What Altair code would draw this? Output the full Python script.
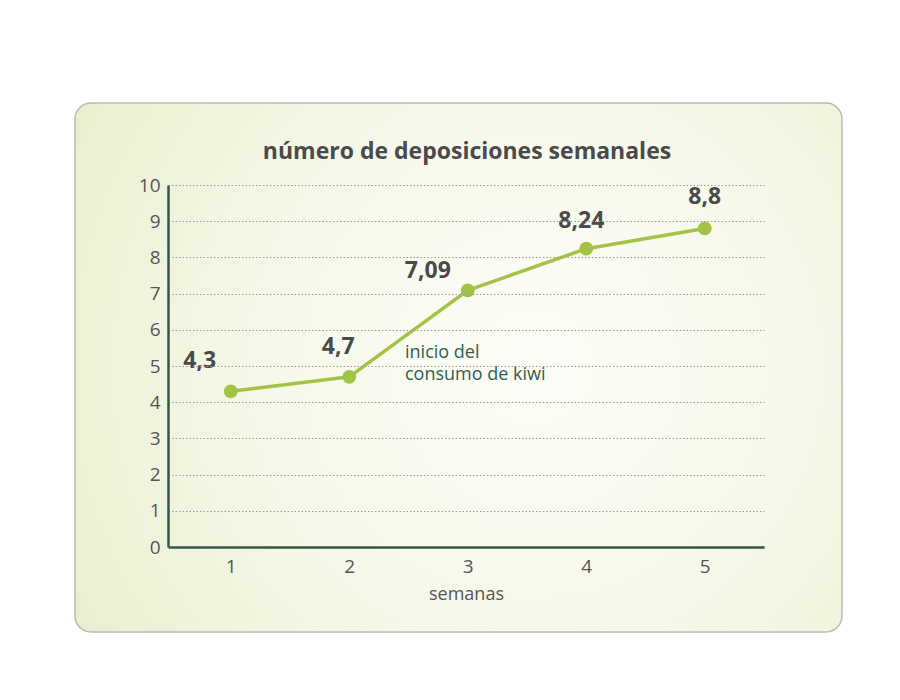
import altair as alt
import pandas as pd

# data
semanas = [1, 2, 3, 4, 5]
deposiciones = [4.3, 4.7, 7.09, 8.24, 8.8]
etiquetas = ["4,3", "4,7", "7,09", "8,24", "8,8"]
y_ticks = [0, 1, 2, 3, 4, 5, 6, 7, 8, 9, 10]
titulo = "número de deposiciones semanales"
nota = "inicio del\nconsumo de kiwi"

df = pd.DataFrame({"semana": semanas, "valor": deposiciones, "etiqueta": etiquetas})

FONT = "Open Sans"
W, H = 596, 362

xs = alt.Scale(domain=[0.47, 5.5], nice=False, zero=False)
ys = alt.Scale(domain=[0, 10], nice=False)

x_axis = alt.Axis(values=semanas, title="semanas", grid=False, format="d", zindex=1,
                  labelPadding=10, titlePadding=9)
y_axis = alt.Axis(values=y_ticks, title=None, grid=True, format="d", zindex=1,
                  labelPadding=8)

X = alt.X("semana:Q", scale=xs, axis=x_axis)
Y = alt.Y("valor:Q", scale=ys, axis=y_axis)

one = pd.DataFrame({"k": [0]})

# background card
card = alt.Chart(one).mark_rect(
    cornerRadius=16,
    stroke="#b9bab2",
    strokeWidth=1.5,
    clip=False,
    color=alt.Gradient(
        gradient="radial",
        x1=0.6, y1=0.5, x2=0.6, y2=0.5, r1=0, r2=0.75,
        stops=[
            alt.GradientStop(color="#fdfdf8", offset=0),
            alt.GradientStop(color="#f5f8e8", offset=0.5),
            alt.GradientStop(color="#e6eecc", offset=1),
        ],
    ),
).encode(
    x=alt.value(-93), x2=alt.value(674), y=alt.value(-82), y2=alt.value(447)
)

title = alt.Chart(one).mark_text(
    text=titulo, font=FONT, fontSize=23, fontWeight="bold", color="#4a4a4a",
    align="center", baseline="middle",
).encode(x=alt.value(299), y=alt.value(-33))

base = alt.Chart(df)

line = base.mark_line(color="#a3c347", strokeWidth=3.5).encode(x=X, y=Y)
pts = base.mark_circle(color="#a3c347", size=190, opacity=1).encode(x=X, y=Y)

label_offsets = [(-31, -30), (-11, -30), (-40, -19), (-5, -28), (0, -31)]
labels = []
for i, (dx, dy) in enumerate(label_offsets):
    labels.append(
        alt.Chart(df.iloc[[i]]).mark_text(
            font=FONT, fontSize=23, fontWeight="bold", color="#4a4a4a",
            dx=dx, dy=dy, align="center", baseline="middle",
        ).encode(x=X, y=Y, text="etiqueta:N")
    )

note = alt.Chart(one).mark_text(
    text=nota, lineBreak="\n", lineHeight=22,
    font=FONT, fontSize=18, color="#2f5e50", align="left", baseline="top"
).encode(x=alt.value(237), y=alt.value(159))

chart = alt.layer(card, title, line, pts, *labels, note).properties(
    width=W, height=H,
    autosize=alt.AutoSizeParams(type="none"),
    padding={"left": 160, "top": 177, "right": 100, "bottom": 120},
    background="white",
).configure_view(stroke=None).configure_axis(
    ticks=False, labelOverlap=False, labelFont=FONT, labelColor="#555555",
    labelFontSize=19, domainColor="#2f5a4b", domainWidth=2.5,
    gridColor="#9a9a9a", gridDash=[1.5, 2], gridWidth=1,
    titleFont=FONT, titleFontSize=18, titleFontWeight="normal", titleColor="#555555",
)

chart.save("out.html", embed_options={"renderer": "svg", "actions": False})
